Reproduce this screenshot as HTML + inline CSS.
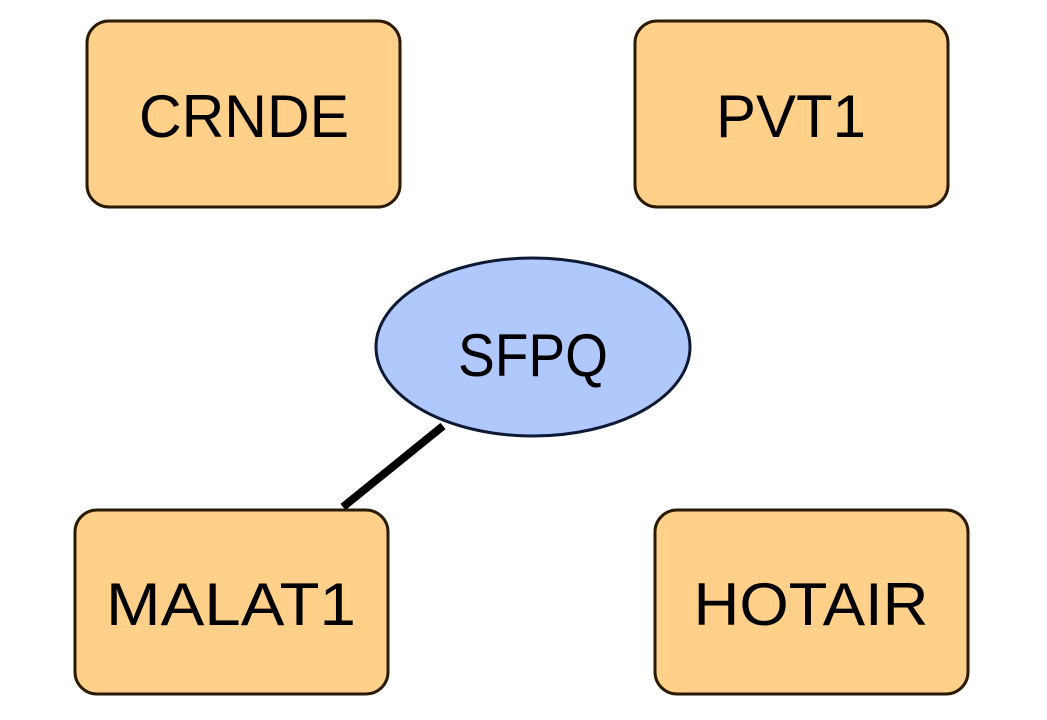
<!DOCTYPE html>
<html><head><style>
html,body{margin:0;padding:0;background:#fff;}
svg{display:block;}
text{font-family:"Liberation Sans",sans-serif;font-size:60px;fill:#000;text-anchor:middle;}
</style></head><body>
<svg width="1047" height="720" viewBox="0 0 1047 720">
<line x1="343" y1="507" x2="443" y2="426" stroke="#000" stroke-width="8"/>
<rect x="87" y="21" width="313" height="186" rx="22" fill="#ffd08a" stroke="#2a1a00" stroke-width="3"/>
<rect x="635" y="21" width="313" height="186" rx="22" fill="#ffd08a" stroke="#2a1a00" stroke-width="3"/>
<rect x="75" y="510" width="313" height="184" rx="22" fill="#ffd08a" stroke="#2a1a00" stroke-width="3"/>
<rect x="655" y="510" width="313" height="184" rx="22" fill="#ffd08a" stroke="#2a1a00" stroke-width="3"/>
<ellipse cx="533" cy="347" rx="157" ry="89" fill="#b0c8fc" stroke="#0e1a33" stroke-width="3"/>
<text x="244" y="137" textLength="210" lengthAdjust="spacingAndGlyphs">CRNDE</text>
<text x="791" y="137" textLength="150" lengthAdjust="spacingAndGlyphs">PVT1</text>
<text x="533" y="376" textLength="150" lengthAdjust="spacingAndGlyphs">SFPQ</text>
<text x="231" y="625" textLength="250" lengthAdjust="spacingAndGlyphs">MALAT1</text>
<text x="811" y="625" textLength="235" lengthAdjust="spacingAndGlyphs">HOTAIR</text>
</svg>
</body></html>
